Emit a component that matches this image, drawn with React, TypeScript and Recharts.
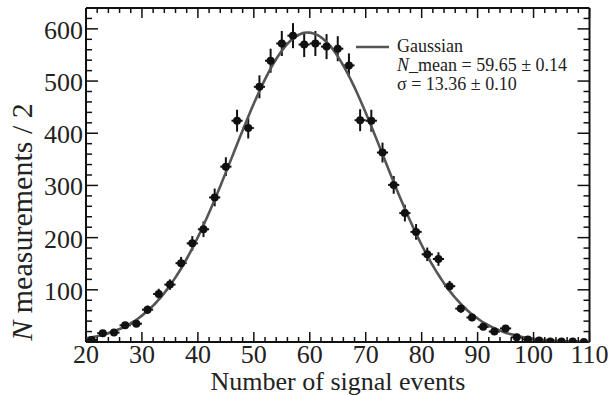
import React from 'react';
import { ScatterChart, Scatter, XAxis, YAxis, ErrorBar } from 'recharts';

// ---- data ----
const binCenters = [21, 23, 25, 27, 29, 31, 33, 35, 37, 39, 41, 43, 45, 47, 49, 51, 53, 55, 57, 59, 61, 63, 65, 67, 69, 71, 73, 75, 77, 79, 81, 83, 85, 87, 89, 91, 93, 95, 97, 99, 101, 103, 105, 107, 109];
const counts = [4, 17, 18, 32, 35, 62, 92, 110, 151, 189, 216, 277, 336, 424, 410, 489, 539, 572, 587, 570, 572, 566, 562, 530, 425, 424, 363, 301, 247, 211, 168, 159, 107, 64, 47, 29, 20, 26, 9, 5, 3, 1, 1, 1, 0];
const countErrors = [2, 4, 4, 6, 6, 8, 10, 10, 12, 14, 15, 17, 18, 21, 20, 22, 23, 24, 24, 24, 24, 24, 24, 23, 21, 21, 19, 17, 16, 15, 13, 13, 10, 8, 7, 5, 4, 5, 3, 2, 2, 1, 1, 1, 0];
const binHalfWidth = 1;

// Gaussian fit parameters (from the legend)
const fitMean = 59.65;
const fitSigma = 13.36;
const fitAmplitude = 593;

const xMajorTicks = [20, 30, 40, 50, 60, 70, 80, 90, 100, 110];
const xMinorTicks = [20, 22, 24, 26, 28, 30, 32, 34, 36, 38, 40, 42, 44, 46, 48, 50, 52, 54, 56, 58, 60, 62, 64, 66, 68, 70, 72, 74, 76, 78, 80, 82, 84, 86, 88, 90, 92, 94, 96, 98, 100, 102, 104, 106, 108, 110];
const yMajorTicks = [100, 200, 300, 400, 500, 600];
const yMinorTicks = [20, 40, 60, 80, 100, 120, 140, 160, 180, 200, 220, 240, 260, 280, 300, 320, 340, 360, 380, 400, 420, 440, 460, 480, 500, 520, 540, 560, 580, 600, 620];

const xTitle = 'Number of signal events';
const yTitleItalic = 'N';
const yTitleRest = ' measurements / 2';
const legendName = 'Gaussian';
const legendMean = '_mean = 59.65 ± 0.14';
const legendSigma = 'σ = 13.36 ± 0.10';

const points = binCenters.map((x, i) => ({ x, y: counts[i], ey: countErrors[i], ex: binHalfWidth }));
const curve: { x: number; y: number }[] = [];
for (let x = 20; x <= 110.0001; x += 0.5) {
  curve.push({ x, y: fitAmplitude * Math.exp(-((x - fitMean) ** 2) / (2 * fitSigma * fitSigma)) });
}

const FONT = '"Liberation Serif", "Times New Roman", serif';
const INK = '#111';
const TXT = '#222';
const CURVE = '#555';

const XBottomTick = (props: any) => {
  const { x, y, payload } = props;
  const v = payload.value;
  const major = xMajorTicks.includes(v);
  return (
    <g>
      <line x1={x} x2={x} y1={y} y2={y - (major ? 10 : 5)} stroke={INK} strokeWidth={1.5} />
      {major && (
        <text x={x} y={y + 21} textAnchor="middle" fontSize={26} fill={TXT} fontFamily={FONT}>
          {v}
        </text>
      )}
    </g>
  );
};

const XTopTick = (props: any) => {
  const { x, y, payload } = props;
  const major = xMajorTicks.includes(payload.value);
  return <line x1={x} x2={x} y1={y} y2={y + (major ? 10 : 5)} stroke={INK} strokeWidth={1.5} />;
};

const YLeftTick = (props: any) => {
  const { x, y, payload } = props;
  const v = payload.value;
  const major = yMajorTicks.includes(v);
  return (
    <g>
      <line x1={x} x2={x + (major ? 12 : 6)} y1={y} y2={y} stroke={INK} strokeWidth={1.5} />
      {major && (
        <text x={x - 3} y={y + 10} textAnchor="end" fontSize={26} fill={TXT} fontFamily={FONT}>
          {v}
        </text>
      )}
    </g>
  );
};

const YRightTick = (props: any) => {
  const { x, y, payload } = props;
  const major = yMajorTicks.includes(payload.value);
  return <line x1={x} x2={x - (major ? 12 : 6)} y1={y} y2={y} stroke={INK} strokeWidth={1.5} />;
};

const axisLine = { stroke: INK, strokeWidth: 2 };

export default function App() {
  return (
    <div style={{ position: 'absolute', left: 0, top: 0, width: 609, height: 396, background: '#fff' }}>
      <ScatterChart width={609} height={396} margin={{ top: 7, right: 18.5, bottom: 0, left: 0 }}>
        <XAxis
          xAxisId="b"
          dataKey="x"
          type="number"
          domain={[20, 110]}
          ticks={xMinorTicks}
          interval={0}
          height={54}
          tickSize={0}
          tickMargin={0}
          tickLine={false}
          axisLine={axisLine}
          tick={<XBottomTick />}
          allowDataOverflow
        />
        <XAxis
          xAxisId="t"
          orientation="top"
          dataKey="x"
          type="number"
          domain={[20, 110]}
          ticks={xMinorTicks}
          interval={0}
          height={1}
          tickSize={0}
          tickMargin={0}
          tickLine={false}
          axisLine={axisLine}
          tick={<XTopTick />}
          allowDataOverflow
        />
        <YAxis
          yAxisId="l"
          dataKey="y"
          type="number"
          domain={[0, 640]}
          ticks={yMinorTicks}
          interval={0}
          width={86}
          tickSize={0}
          tickMargin={0}
          tickLine={false}
          axisLine={axisLine}
          tick={<YLeftTick />}
          allowDataOverflow
        />
        <YAxis
          yAxisId="r"
          orientation="right"
          dataKey="y"
          type="number"
          domain={[0, 640]}
          ticks={yMinorTicks}
          interval={0}
          width={1}
          tickSize={0}
          tickMargin={0}
          tickLine={false}
          axisLine={axisLine}
          tick={<YRightTick />}
          allowDataOverflow
        />
        <Scatter
          xAxisId="b"
          yAxisId="l"
          data={curve}
          fill={CURVE}
          line={{ stroke: CURVE, strokeWidth: 2.6 }}
          lineJointType="monotoneX"
          shape={() => <g />}
          isAnimationActive={false}
        />
        <Scatter
          xAxisId="b"
          yAxisId="l"
          data={points}
          fill={INK}
          shape={(p: any) => <circle cx={p.cx} cy={p.cy} r={4} fill={INK} />}
          isAnimationActive={false}
        >
          <ErrorBar dataKey="ey" direction="y" width={0} stroke={INK} strokeWidth={2} isAnimationActive={false} />
          <ErrorBar dataKey="ex" direction="x" width={0} stroke={INK} strokeWidth={2} isAnimationActive={false} />
        </Scatter>
      </ScatterChart>
      <svg
        width={609}
        height={396}
        style={{ position: 'absolute', left: 0, top: 0, pointerEvents: 'none' }}
        fontFamily={FONT}
      >
        <text x={338} y={390} textAnchor="middle" fontSize={26} fill={TXT}>
          {xTitle}
        </text>
        <text x={32} y={222} textAnchor="middle" fontSize={30} fill={TXT} transform="rotate(-90, 32, 222)">
          <tspan fontStyle="italic">{yTitleItalic}</tspan>
          {yTitleRest}
        </text>
        <line x1={356} x2={389} y1={47} y2={47} stroke={CURVE} strokeWidth={2.6} />
        <text x={397} y={52} fontSize={18} fill={TXT}>
          {legendName}
        </text>
        <text x={397} y={71} fontSize={18} fill={TXT}>
          <tspan fontStyle="italic">N</tspan>
          {legendMean}
        </text>
        <text x={397} y={90} fontSize={18} fill={TXT}>
          {legendSigma}
        </text>
      </svg>
    </div>
  );
}
